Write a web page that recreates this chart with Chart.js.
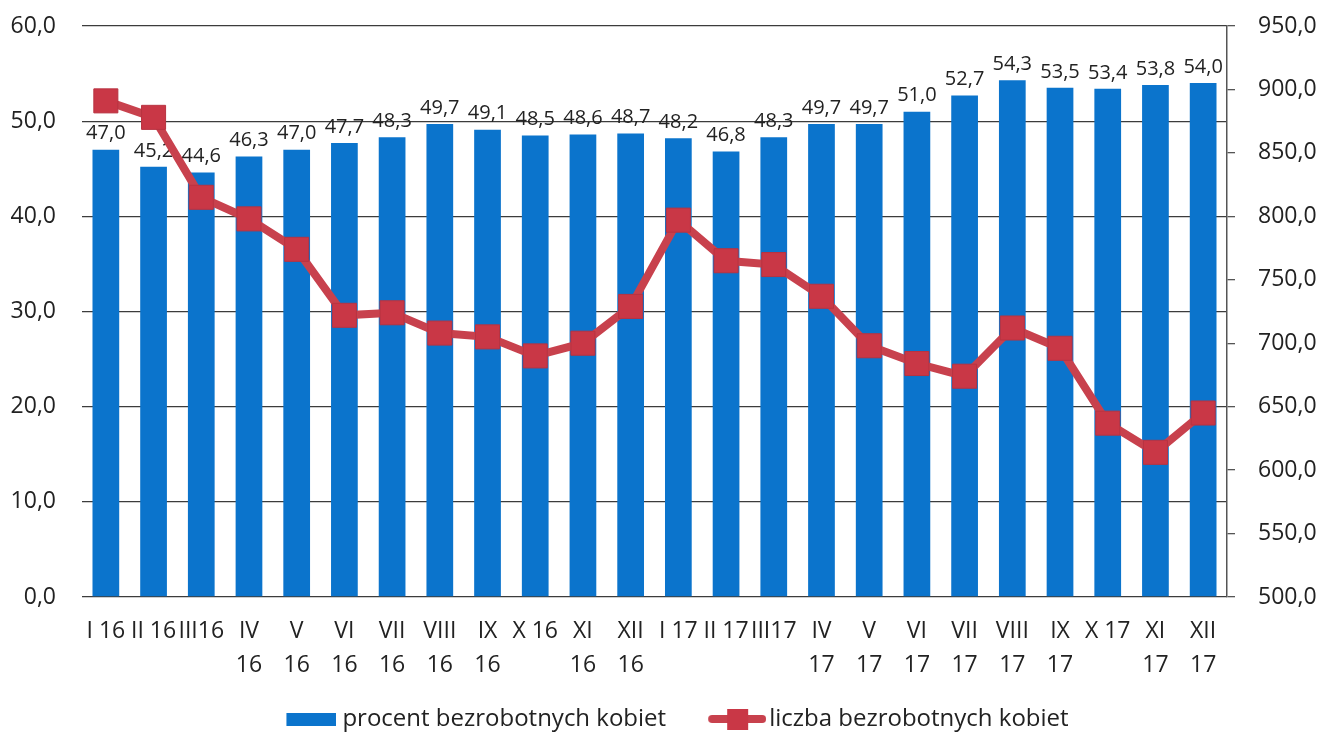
<!DOCTYPE html>
<html lang="pl">
<head>
<meta charset="utf-8">
<title>Bezrobotne kobiety 2016-2017</title>
<script src="https://cdn.jsdelivr.net/npm/chart.js@4.4.1/dist/chart.umd.min.js"></script>
<style>
  html, body { margin: 0; padding: 0; background: #fff; }
  #wrap { position: relative; width: 1321px; height: 735px; }
</style>
</head>
<body>
<div id="wrap"><canvas id="wykres"></canvas></div>
<script>
// Etykiety osi X (dwie linie tam, gdzie w oryginale sie zawijaja)
const miesiace = [
    ['I 16'], ['II 16'], ['III16'], ['IV', '16'], ['V', '16'], ['VI', '16'],
    ['VII', '16'], ['VIII', '16'], ['IX', '16'], ['X 16'], ['XI', '16'], ['XII', '16'],
    ['I 17'], ['II 17'], ['III17'], ['IV', '17'], ['V', '17'], ['VI', '17'],
    ['VII', '17'], ['VIII', '17'], ['IX', '17'], ['X 17'], ['XI', '17'], ['XII', '17']
];

// procent bezrobotnych kobiet (slupki, lewa os)
const procentKobiet = [
    47.0, 45.2, 44.6, 46.3, 47.0, 47.7, 48.3, 49.7, 49.1, 48.5, 48.6, 48.7,
    48.2, 46.8, 48.3, 49.7, 49.7, 51.0, 52.7, 54.3, 53.5, 53.4, 53.8, 54.0
];

// liczba bezrobotnych kobiet (linia, prawa os)
const liczbaKobiet = [
    891, 878, 815, 798, 774, 722, 724, 708, 705, 690, 700, 729,
    797, 765, 762, 737, 698, 684, 674, 712, 696, 637, 614, 645
];

// podzialki osi
const tickiLewe = [0, 10, 20, 30, 40, 50, 60];
const tickiPrawe = [500, 550, 600, 650, 700, 750, 800, 850, 900, 950];

const KOLOR_SLUPKA = '#0b74cc';
const KOLOR_LINII = '#c8414d';
const KOLOR_PUNKTU = '#c93746';
const KOLOR_SIATKI = '#3c3c3c';
const KOLOR_TEKSTU = '#222';

const przecinek = v => Number(v).toFixed(1).replace('.', ',');

Chart.defaults.font.family = "'Open Sans', 'Noto Sans', sans-serif";
Chart.defaults.color = KOLOR_TEKSTU;

//Ikony do legendy (prostokat i linia z kwadratem)
function ikona(szer, wys, rysuj) {
    const c = document.createElement('canvas');
    c.width = szer;
    c.height = wys;
    rysuj(c.getContext('2d'));
    return c;
}
const ikonaSlupka = ikona(83, 26, g => {
    g.fillStyle = KOLOR_SLUPKA;
    g.fillRect(33, 7, 50, 13);
});
const ikonaLinii = ikona(89, 26, g => {
    g.strokeStyle = KOLOR_LINII;
    g.lineWidth = 8;
    g.lineCap = 'round';
    g.beginPath();
    g.moveTo(35, 13);
    g.lineTo(85, 13);
    g.stroke();
    g.fillStyle = KOLOR_PUNKTU;
    g.fillRect(50, 3, 21, 21);
});

//Wartosci nad slupkami (rysowane przed linia)
const etykietySlupkow = {
    id: 'etykietySlupkow',
    afterDatasetDraw(chart, args) {
        if (args.index !== 0) return;
        const ctx = chart.ctx;
        ctx.save();
        ctx.font = "20px 'Open Sans', sans-serif";
        ctx.fillStyle = KOLOR_TEKSTU;
        ctx.textAlign = 'center';
        args.meta.data.forEach((bar, i) => {
            ctx.fillText(przecinek(procentKobiet[i]), bar.x, bar.y - 16);
        });
        ctx.restore();
    }
};

new Chart(document.getElementById('wykres'), {
    data: {
        labels: miesiace,
        datasets: [
            {
                type: 'bar',
                label: 'procent bezrobotnych kobiet',
                data: procentKobiet,
                backgroundColor: KOLOR_SLUPKA,
                yAxisID: 'y',
                barPercentage: 0.56,
                categoryPercentage: 1.0,
                order: 2
            },
            {
                type: 'line',
                label: 'liczba bezrobotnych kobiet',
                data: liczbaKobiet,
                borderColor: KOLOR_LINII,
                borderWidth: 8,
                tension: 0,
                pointStyle: 'rect',
                pointRadius: 17,
                pointBackgroundColor: KOLOR_PUNKTU,
                pointBorderColor: '#b83341',
                pointBorderWidth: 1,
                yAxisID: 'y1',
                order: 1
            }
        ]
    },
    options: {
        responsive: true,
        maintainAspectRatio: false,
        animation: false,
        layout: {
            autoPadding: false,
            padding: { top: 26, left: 11, right: 4, bottom: -6 }
        },
        scales: {
            x: {
                grid: { display: false, drawTicks: false },
                border: { display: false },
                ticks: {
                    autoSkip: false,
                    maxRotation: 0,
                    minRotation: 0,
                    padding: 17,
                    font: { size: 23, lineHeight: 1.48 }
                },
                afterFit: axis => { axis.height = 90; }
            },
            y: {
                position: 'left',
                min: tickiLewe[0],
                max: tickiLewe[tickiLewe.length - 1],
                afterBuildTicks: axis => { axis.ticks = tickiLewe.map(v => ({ value: v })); },
                grid: { color: KOLOR_SIATKI, lineWidth: 1.3, drawTicks: true, tickLength: 22, tickColor: 'rgba(0,0,0,0)' },
                border: { display: false },
                ticks: {
                    padding: 4,
                    font: { size: 23, lineHeight: 0.1 },
                    callback: v => przecinek(v)
                },
                afterFit: axis => { axis.width = 71; }
            },
            y1: {
                position: 'right',
                min: tickiPrawe[0],
                max: tickiPrawe[tickiPrawe.length - 1],
                afterBuildTicks: axis => { axis.ticks = tickiPrawe.map(v => ({ value: v })); },
                grid: { drawOnChartArea: false, drawTicks: true, tickLength: 8, color: '#555', lineWidth: 1.3 },
                border: { display: true, color: '#555', width: 1.5 },
                ticks: {
                    padding: 23,
                    font: { size: 23, lineHeight: 0.1 },
                    callback: v => przecinek(v)
                },
                afterFit: axis => { axis.width = 90; }
            }
        },
        plugins: {
            tooltip: { enabled: false },
            legend: {
                position: 'bottom',
                labels: {
                    usePointStyle: true,
                    pointStyleWidth: 71,
                    padding: 20,
                    font: { size: 24 },
                    generateLabels: chart => {
                        const items = Chart.defaults.plugins.legend.labels.generateLabels(chart);
                        items.sort((a, b) => a.datasetIndex - b.datasetIndex);
                        items.forEach(it => {
                            it.pointStyle = it.datasetIndex === 0 ? ikonaSlupka : ikonaLinii;
                        });
                        return items;
                    }
                }
            }
        }
    },
    plugins: [etykietySlupkow]
});
</script>
</body>
</html>
